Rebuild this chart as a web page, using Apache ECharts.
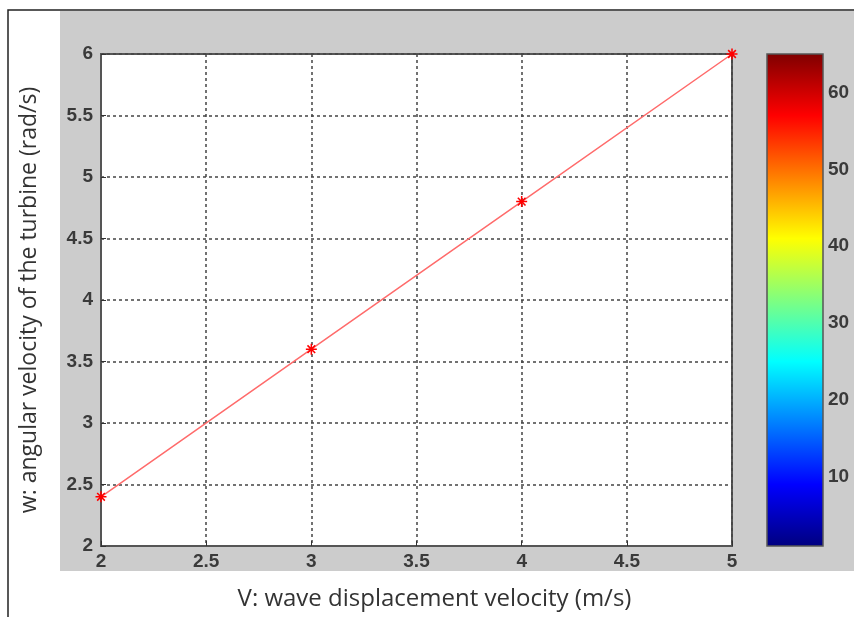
<!DOCTYPE html>
<html>
<head>
<meta charset="utf-8">
<script src="https://cdn.jsdelivr.net/npm/echarts@6/dist/echarts.min.js"></script>
<style>
  html, body { margin: 0; padding: 0; background: #fff; }
  #main { width: 854px; height: 617px; }
</style>
</head>
<body>
<div id="main"></div>
<script>
// wave speed V (m/s) vs turbine angular velocity w (rad/s)
const speedV = [2, 3, 4, 5];
const omegaW = [2.4, 3.6, 4.8, 6];
// colorbar range and its tick labels
const cbarRange = [1, 65];
const cbarTicks = [10, 20, 30, 40, 50, 60];

const jetStops = [
  { offset: 0, color: "#800000" },
  { offset: 0.125, color: "#ff0000" },
  { offset: 0.375, color: "#ffff00" },
  { offset: 0.625, color: "#00ffff" },
  { offset: 0.875, color: "#0000ff" },
  { offset: 1, color: "#000080" },
];

const star = "path://M-0.7,-5L0.7,-5L0.7,5L-0.7,5Z M-5,-0.7L5,-0.7L5,0.7L-5,0.7Z M-4,-3L-3,-4L4,3L3,4Z M3,-4L4,-3L-3,4L-4,3Z";

const tickFont = { fontFamily: "Liberation Sans", fontSize: 19, fontWeight: "bold", color: "#3a3a3a" };
const titleFont = { fontFamily: "Open Sans", fontSize: 23, color: "#333" };

var myChart = echarts.init(document.getElementById("main"));
var option = {
  backgroundColor: "#fff",
  animation: false,
  graphic: [
    {
      type: "rect",
      z: -10,
      shape: { x: 60, y: 11, width: 794, height: 560 },
      style: { fill: "#cccccc" },
    },
    {
      type: "polyline",
      z: -9,
      shape: { points: [[8, 617], [8, 10], [854, 10]] },
      style: { stroke: "#222", lineWidth: 1.5, fill: null },
    },
  ],
  grid: [
    {
      left: 101,
      top: 54,
      right: 122,
      bottom: 71,
      show: true,
      backgroundColor: "#fff",
      borderColor: "#555",
      borderWidth: 2,
    },
    {
      left: 767,
      top: 54,
      right: 31,
      bottom: 71,
      show: true,
      backgroundColor: "transparent",
      borderColor: "#555",
      borderWidth: 1.5,
      z: 5,
    },
  ],
  xAxis: [
    {
      gridIndex: 0,
      type: "value",
      min: 2,
      max: 5,
      interval: 0.5,
      name: "V: wave displacement velocity (m/s)",
      nameLocation: "middle",
      nameGap: 41,
      nameTextStyle: Object.assign({}, titleFont, { fontSize: 24, padding: [0, 0, 0, 36] }),
      axisLine: { show: true, lineStyle: { color: "#555", width: 2 } },
      axisTick: { show: true, inside: true, length: 5, lineStyle: { color: "#333" } },
      axisLabel: Object.assign({ margin: 6 }, tickFont),
      splitLine: { show: true, lineStyle: { color: "#444", type: [3, 3], width: 1.5 } },
    },
    {
      gridIndex: 1,
      type: "category",
      data: ["c"],
      show: false,
    },
  ],
  yAxis: [
    {
      gridIndex: 0,
      type: "value",
      min: 2,
      max: 6,
      interval: 0.5,
      name: "w: angular velocity of the turbine (rad/s)",
      nameLocation: "middle",
      nameGap: 60,
      nameTextStyle: titleFont,
      axisLine: { show: true, lineStyle: { color: "#555", width: 2 } },
      axisTick: { show: true, inside: true, length: 5, lineStyle: { color: "#333" } },
      axisLabel: Object.assign({ margin: 8 }, tickFont),
      splitLine: { show: true, lineStyle: { color: "#444", type: [3, 3], width: 1.5 } },
    },
    {
      gridIndex: 1,
      type: "value",
      position: "right",
      min: cbarRange[0],
      max: cbarRange[1],
      axisLine: { show: false },
      axisTick: {
        show: true,
        inside: true,
        length: 5,
        customValues: cbarTicks,
        lineStyle: { color: "#222", width: 1.5 },
      },
      axisLabel: Object.assign({ customValues: cbarTicks, margin: 5 }, tickFont),
      splitLine: { show: false },
    },
    {
      gridIndex: 1,
      type: "value",
      position: "left",
      min: cbarRange[0],
      max: cbarRange[1],
      axisLine: { show: false },
      axisTick: {
        show: true,
        inside: true,
        length: 5,
        customValues: cbarTicks,
        lineStyle: { color: "#222", width: 1.5 },
      },
      axisLabel: { show: false },
      splitLine: { show: false },
    },
  ],
  series: [
    {
      type: "line",
      xAxisIndex: 0,
      yAxisIndex: 0,
      data: speedV.map((v, i) => [v, omegaW[i]]),
      symbol: star,
      symbolSize: 11,
      itemStyle: { color: "#ff0000" },
      lineStyle: { color: "#ff6b6b", width: 1.5 },
      z: 3,
    },
    {
      type: "bar",
      xAxisIndex: 1,
      yAxisIndex: 1,
      stack: "cb",
      barWidth: "100%",
      data: [cbarRange[0]],
      itemStyle: { color: "transparent" },
      silent: true,
    },
    {
      type: "bar",
      xAxisIndex: 1,
      yAxisIndex: 1,
      stack: "cb",
      barWidth: "100%",
      data: [cbarRange[1] - cbarRange[0]],
      itemStyle: {
        color: { type: "linear", x: 0, y: 0, x2: 0, y2: 1, colorStops: jetStops },
      },
      silent: true,
    },
  ],
};
myChart.setOption(option);
</script>
</body>
</html>
